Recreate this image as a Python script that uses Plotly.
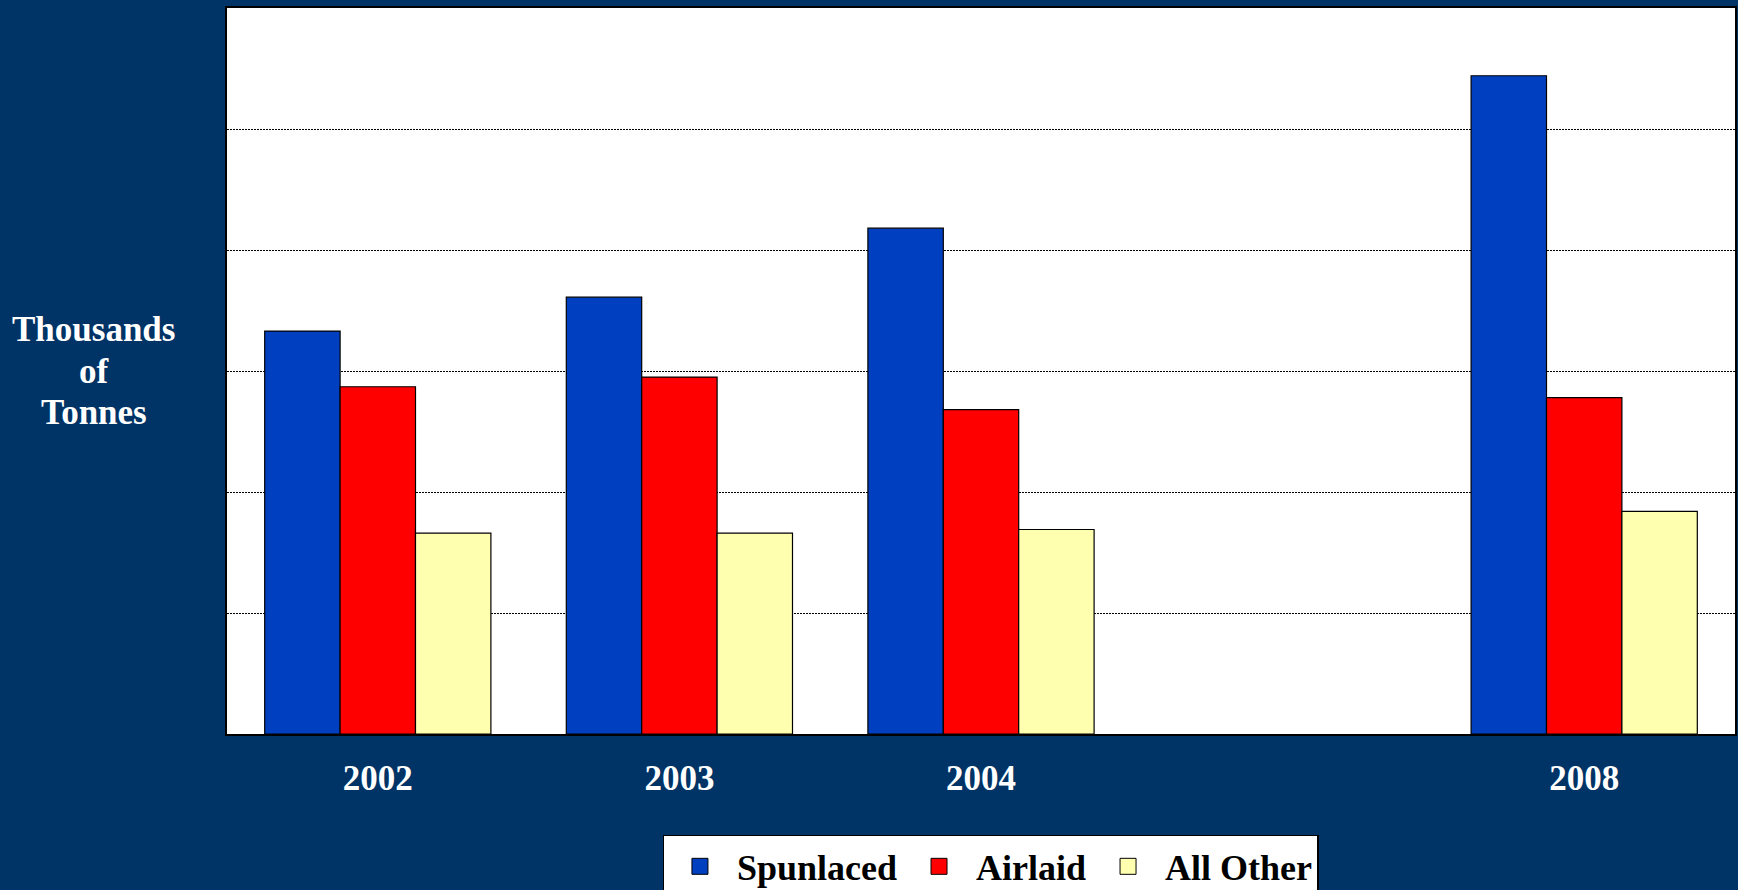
import plotly.graph_objects as go

years = ["2002", "2003", "2004", " ", "2008"]
spunlaced = [33.3, 36.1, 41.8, None, 54.4]
airlaid = [28.7, 29.5, 26.8, None, 27.8]
all_other = [16.6, 16.6, 16.9, None, 18.4]

series = [
    ("Spunlaced", spunlaced, "#0040C0"),
    ("Airlaid", airlaid, "#FF0000"),
    ("All Other", all_other, "#FFFFB0"),
]

FONT = "Liberation Serif"
BG = "#003366"

fig = go.Figure()
for name, vals, col in series:
    fig.add_trace(go.Bar(
        x=years, y=vals, name=name, legendgroup=name, showlegend=False,
        marker=dict(color=col, line=dict(color="black", width=1.2)),
    ))
    # legend-only swatch (draws nothing on the plot)
    fig.add_trace(go.Scatter(
        x=[None], y=[None], mode="markers", name=name, legendgroup=name,
        marker=dict(symbol="square", size=24, color=col,
                    line=dict(color="black", width=1)),
    ))

fig.update_layout(
    width=1738, height=890,
    paper_bgcolor=BG, plot_bgcolor="white",
    margin=dict(l=227, r=3, t=8, b=156, autoexpand=False),
    barmode="group", bargap=0.25, bargroupgap=0,
    showlegend=True,
    legend=dict(
        orientation="h", x=0.5066, xanchor="center", y=-0.139, yanchor="top",
        bgcolor="white", bordercolor="black", borderwidth=1.5,
        font=dict(family=FONT, size=36, color="black", weight="bold"),
        itemwidth=64, tracegroupgap=0, itemsizing="trace",
    ),
)

fig.update_xaxes(
    type="category", categoryorder="array", categoryarray=years,
    showline=True, linecolor="black", linewidth=2, mirror=True,
    showgrid=False, ticks="", ticklabelstandoff=12,
    tickfont=dict(family=FONT, size=35, color="white", weight="bold"),
)
fig.update_yaxes(
    range=[0, 60], dtick=10, showticklabels=False,
    showline=True, linecolor="black", linewidth=2, mirror=True,
    showgrid=True, gridcolor="black", gridwidth=1.2, griddash="2px,1px",
    zeroline=False, ticks="",
)

for i, line in enumerate(["Thousands", "of", "Tonnes"]):
    fig.add_annotation(
        text=line, xref="paper", yref="paper",
        x=-0.0882, y=0.5 + (1 - i) * 0.0572,
        xanchor="center", yanchor="middle", showarrow=False,
        font=dict(family=FONT, size=35, color="white", weight="bold"),
    )

fig.write_html(
    "out.html",
    config={"displayModeBar": False},
    post_script="document.body.style.margin='0';document.body.style.overflow='hidden';",
)
